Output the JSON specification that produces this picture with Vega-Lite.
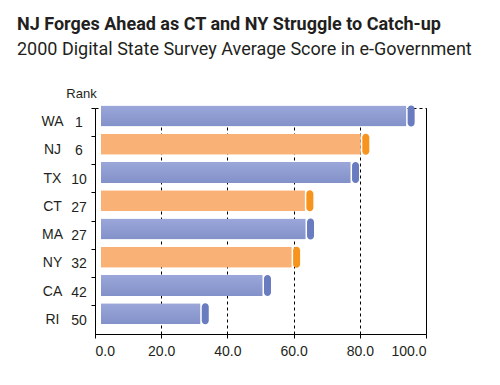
{
  "$schema": "https://vega.github.io/schema/vega-lite/v6.json",
  "width": 331,
  "height": 226,
  "autosize": {"type": "none"},
  "padding": {"left": 95, "top": 108, "right": 74, "bottom": 51},
  "background": "white",
  "title": {
    "text": "NJ Forges Ahead as CT and NY Struggle to Catch-up",
    "subtitle": "2000 Digital State Survey Average Score in e-Government",
    "anchor": "start",
    "frame": "group",
    "dx": -78,
    "font": "Roboto",
    "fontSize": 18,
    "fontWeight": "bold",
    "color": "#231f20",
    "subtitleFont": "Roboto",
    "subtitleFontSize": 18,
    "subtitleColor": "#231f20",
    "subtitlePadding": 7,
    "offset": 28
  },
  "config": {
    "view": {"stroke": "#000", "strokeDash": [3, 3], "strokeWidth": 1},
    "font": "Liberation Sans"
  },
  "data": {
    "values": [
      {"state": "WA", "rank": "1", "score": 94.0, "group": "other"},
      {"state": "NJ", "rank": "6", "score": 80.3, "group": "tri"},
      {"state": "TX", "rank": "10", "score": 77.2, "group": "other"},
      {"state": "CT", "rank": "27", "score": 63.4, "group": "tri"},
      {"state": "MA", "rank": "27", "score": 63.6, "group": "other"},
      {"state": "NY", "rank": "32", "score": 59.4, "group": "tri"},
      {"state": "CA", "rank": "42", "score": 50.6, "group": "other"},
      {"state": "RI", "rank": "50", "score": 31.8, "group": "other"}
    ]
  },
  "encoding": {
    "y": {
      "field": "state",
      "type": "nominal",
      "sort": null,
      "scale": {"paddingInner": 0, "paddingOuter": 0},
      "axis": {
        "title": "Rank",
        "titleAngle": 0,
        "titleX": -14,
        "titleY": -15,
        "titleAlign": "center",
        "titleBaseline": "middle",
        "titleFontSize": 13,
        "titleFontWeight": "normal",
        "titleColor": "#231f20",
        "titleFont": "Liberation Sans",
        "bandPosition": 0,
        "labelAlign": "center",
        "labelBaseline": "middle",
        "labelPadding": 39,
        "labelFontSize": 14,
        "labelColor": "#231f20",
        "tickSize": 4,
        "tickColor": "#000",
        "domainColor": "#000",
        "grid": false
      }
    }
  },
  "layer": [
    {
      "mark": {"type": "bar", "size": 21, "cornerRadiusTopLeft": 3, "cornerRadiusBottomLeft": 3},
      "encoding": {
        "x": {
          "field": "score",
          "type": "quantitative",
          "scale": {"domain": [0, 100], "nice": false},
          "axis": {
            "title": null,
            "values": [0, 20, 40, 60, 80, 100],
            "format": ".1f",
            "labelFontSize": 14,
            "labelColor": "#231f20",
            "labelPadding": 6,
            "tickSize": 4,
            "tickColor": "#000",
            "domainColor": "#000",
            "grid": true,
            "gridColor": "#000",
            "gridOpacity": 1,
            "gridDash": {"condition": {"test": "datum.value == 100", "value": []}, "value": [3, 3]}
          }
        },
        "xOffset": {"value": 6},
        "yOffset": {"value": 8},
        "fill": {
          "condition": {"test": "datum.group == 'tri'", "value": "#f9b176"},
          "value": {
            "gradient": "linear",
            "x1": 0, "y1": 0, "x2": 0, "y2": 1,
            "stops": [
              {"offset": 0, "color": "#9ba7d9"},
              {"offset": 0.4, "color": "#919ed3"},
              {"offset": 1, "color": "#8291c9"}
            ]
          }
        }
      }
    },
    {
      "mark": {"type": "tick", "size": 21, "thickness": 7, "cornerRadius": 3.5, "strokeWidth": 0, "opacity": 1},
      "encoding": {
        "x": {"field": "score", "type": "quantitative"},
        "xOffset": {"value": 5},
        "yOffset": {"value": 8},
        "color": {
          "field": "group",
          "type": "nominal",
          "scale": {"domain": ["other", "tri"], "range": ["#6a7cc0", "#f7941e"]},
          "legend": null
        }
      }
    },
    {
      "mark": {"type": "text", "align": "center", "baseline": "middle", "fontSize": 14, "dx": -16, "dy": 1, "color": "#231f20"},
      "encoding": {
        "x": {"datum": 0},
        "text": {"field": "rank"}
      }
    }
  ]
}
